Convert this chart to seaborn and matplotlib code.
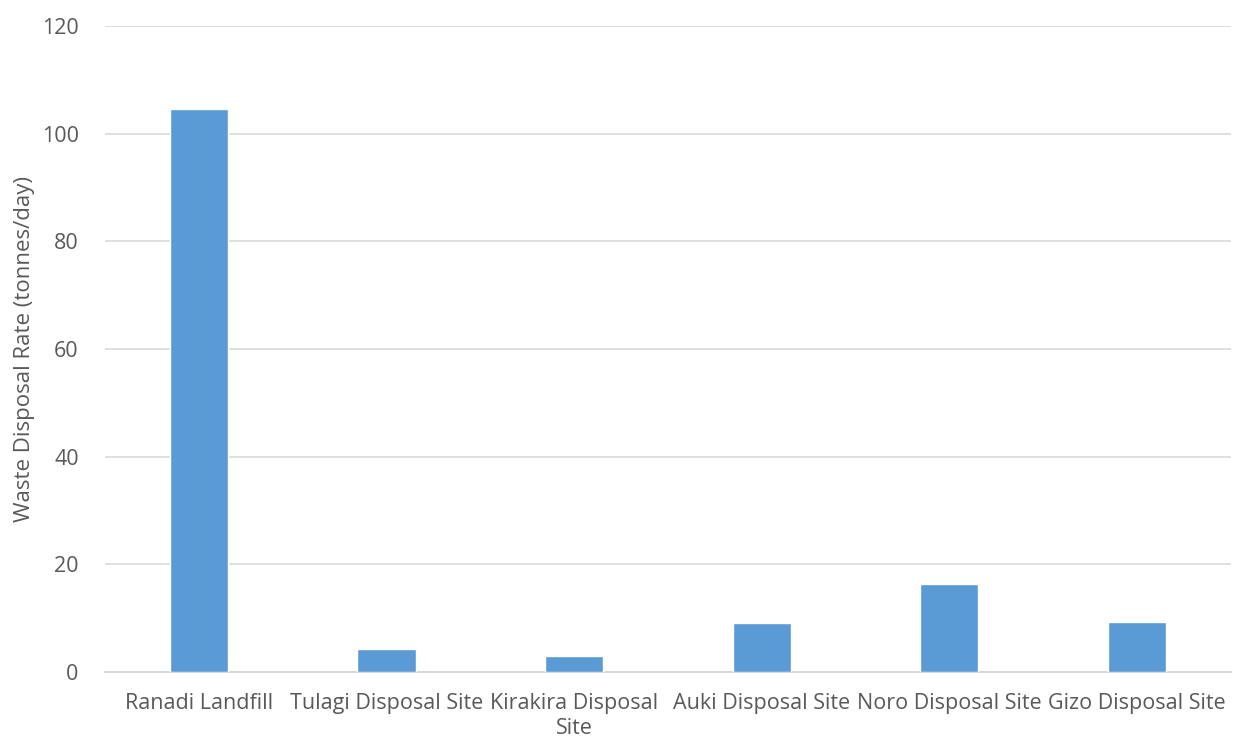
import matplotlib
matplotlib.use("Agg")
import matplotlib.pyplot as plt
import seaborn as sns
import pandas as pd

sites = ["Ranadi Landfill", "Tulagi Disposal Site", "Kirakira Disposal\nSite",
         "Auki Disposal Site", "Noro Disposal Site", "Gizo Disposal Site"]
rates = [104.6, 4.2, 3.0, 9.0, 16.4, 9.25]
y_ticks = [0, 20, 40, 60, 80, 100, 120]

df = pd.DataFrame({"site": sites, "rate": rates})

sns.set_theme(style="white")
plt.rcParams["font.family"] = ["Open Sans", "DejaVu Sans"]

fig = plt.figure(figsize=(12.33, 7.4), dpi=100)
ax = fig.add_axes([0.0852, 0.092, 0.913, 0.873])

sns.barplot(data=df, x="site", y="rate", color="#5B9BD5", width=0.31,
            saturation=1, ax=ax, zorder=3)

ax.set_ylim(0, 120)
ax.set_yticks(y_ticks)
ax.yaxis.grid(True, color="#D9D9D9", linewidth=1.2, zorder=0)
ax.set_axisbelow(True)
for side in ["top", "right", "left"]:
    ax.spines[side].set_visible(False)
ax.spines["bottom"].set_color("#D9D9D9")
ax.spines["bottom"].set_linewidth(1.5)

ax.tick_params(axis="both", length=0, colors="#595959", labelsize=15.5)
ax.tick_params(axis="y", pad=19)
ax.tick_params(axis="x", pad=15)
for lbl in ax.get_xticklabels():
    lbl.set_linespacing(1.28)
ax.set_xlabel("")
ax.set_ylabel("Waste Disposal Rate (tonnes/day)", color="#595959", fontsize=16, labelpad=5)

fig.savefig("out.png", dpi=100)
